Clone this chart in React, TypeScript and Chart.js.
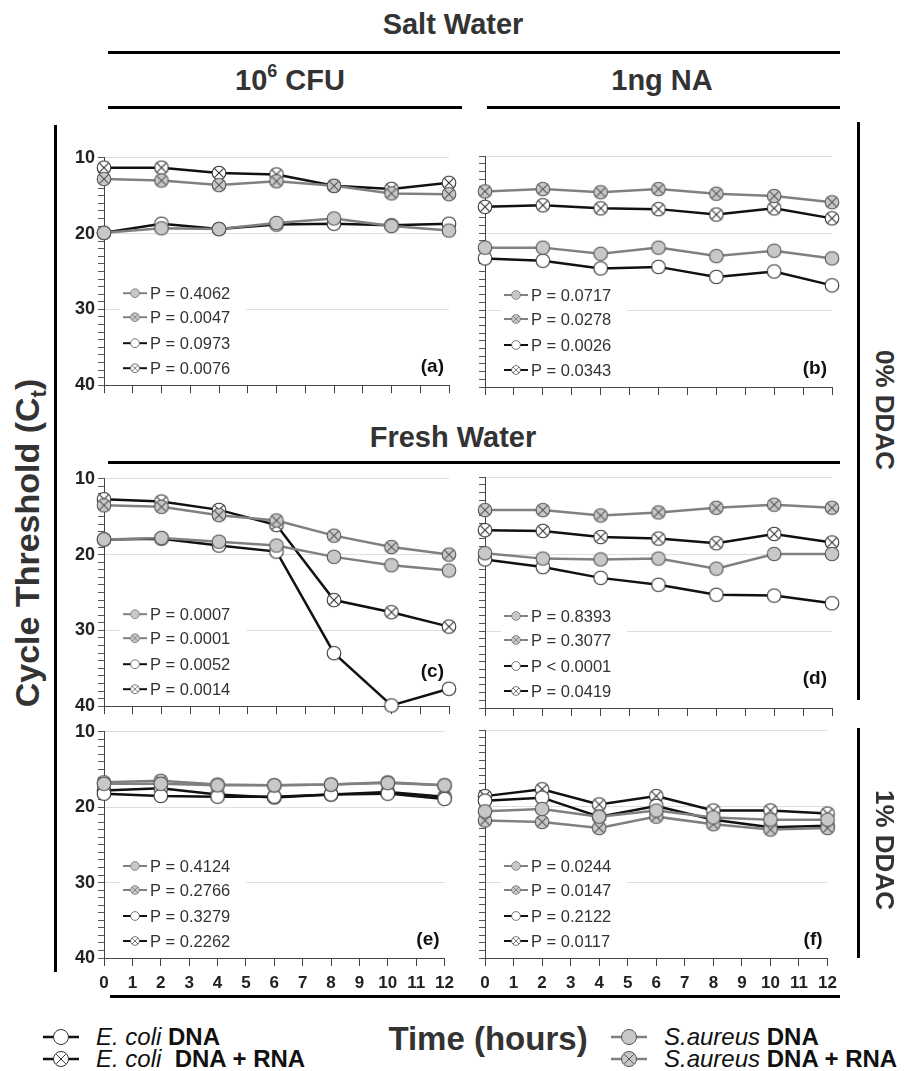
import React, { useEffect, useRef } from 'react';
import { Chart, registerables } from 'chart.js';

Chart.register(...registerables);

// ---------------- DATA ----------------
const HOURS = [0, 2, 4, 6, 8, 10, 12];
const Y_TICK_LABELS = ['10', '20', '30', '40'];
const SERIES_NAMES = ['S.aureus DNA', 'S.aureus DNA + RNA', 'E. coli DNA', 'E. coli DNA + RNA'];

// (a) Salt water, 10^6 CFU, 0% DDAC
const SA_DNA_A = [19.9, 19.3, 19.4, 18.6, 18.0, 19.0, 19.6];
const SA_DR_A = [12.8, 13.0, 13.6, 13.1, 13.7, 14.7, 14.8];
const EC_DNA_A = [19.9, 18.7, 19.4, 18.8, 18.7, 18.9, 18.7];
const EC_DR_A = [11.3, 11.3, 12.0, 12.2, 13.7, 14.1, 13.3];
const P_A = ['P = 0.4062', 'P = 0.0047', 'P = 0.0973', 'P = 0.0076'];

// (b) Salt water, 1ng NA, 0% DDAC
const SA_DNA_B = [21.9, 21.9, 22.7, 21.9, 23.0, 22.3, 23.3];
const SA_DR_B = [14.6, 14.3, 14.7, 14.3, 14.9, 15.2, 16.0];
const EC_DNA_B = [23.3, 23.6, 24.6, 24.4, 25.7, 25.0, 26.8];
const EC_DR_B = [16.6, 16.4, 16.8, 16.9, 17.6, 16.8, 18.1];
const P_B = ['P = 0.0717', 'P = 0.0278', 'P = 0.0026', 'P = 0.0343'];

// (c) Fresh water, 10^6 CFU, 0% DDAC
const SA_DNA_C = [18.0, 17.8, 18.3, 18.8, 20.3, 21.4, 22.1];
const SA_DR_C = [13.5, 13.7, 14.8, 15.5, 17.5, 19.0, 20.0];
const EC_DNA_C = [18.0, 17.9, 18.8, 19.6, 33.0, 39.9, 37.7];
const EC_DR_C = [12.7, 13.0, 14.1, 16.1, 26.0, 27.6, 29.5];
const P_C = ['P = 0.0007', 'P = 0.0001', 'P = 0.0052', 'P = 0.0014'];

// (d) Fresh water, 1ng NA, 0% DDAC
const SA_DNA_D = [19.9, 20.6, 20.7, 20.6, 21.9, 20.0, 20.0];
const SA_DR_D = [14.3, 14.3, 15.0, 14.6, 14.0, 13.6, 14.0];
const EC_DNA_D = [20.7, 21.7, 23.1, 24.0, 25.3, 25.4, 26.4];
const EC_DR_D = [16.9, 17.0, 17.8, 18.0, 18.6, 17.4, 18.5];
const P_D = ['P = 0.8393', 'P = 0.3077', 'P < 0.0001', 'P = 0.0419'];

// (e) Fresh water, 10^6 CFU, 1% DDAC
const SA_DNA_E = [16.9, 16.9, 17.1, 17.1, 17.0, 16.8, 17.1];
const SA_DR_E = [16.7, 16.5, 17.0, 17.1, 17.0, 16.7, 17.1];
const EC_DNA_E = [18.2, 18.5, 18.6, 18.6, 18.3, 18.2, 18.9];
const EC_DR_E = [17.8, 17.5, 18.3, 18.7, 18.3, 18.0, 18.6];
const P_E = ['P = 0.4124', 'P = 0.2766', 'P = 0.3279', 'P = 0.2262'];

// (f) Fresh water, 1ng NA, 1% DDAC
const SA_DNA_F = [20.7, 20.4, 21.4, 20.6, 21.5, 21.8, 21.8];
const SA_DR_F = [21.9, 22.1, 22.9, 21.4, 22.4, 23.1, 22.9];
const EC_DNA_F = [19.3, 18.9, 21.4, 20.0, 21.8, 22.8, 22.6];
const EC_DR_F = [18.7, 17.8, 19.8, 18.7, 20.6, 20.6, 21.0];
const P_F = ['P = 0.0244', 'P = 0.0147', 'P = 0.2122', 'P = 0.0117'];

// ---------------- STYLES / LAYOUT ----------------
type SeriesStyle = { line: string; fill: string; stroke: string; cross: boolean };
const SERIES_STYLE: SeriesStyle[] = [
  { line: '#808080', fill: '#c8c8c8', stroke: '#555555', cross: false },
  { line: '#808080', fill: '#c8c8c8', stroke: '#555555', cross: true },
  { line: '#111111', fill: '#ffffff', stroke: '#333333', cross: false },
  { line: '#111111', fill: '#ffffff', stroke: '#333333', cross: true },
];

const FONT = '"Liberation Sans", Arial, sans-serif';
const PAD_T = 12;
const PAD_R = 12;

type Panel = {
  tag: string;
  L: number; R: number; T: number; B: number;
  showY: boolean; showX: boolean;
  series: number[][];
  pvals: string[];
  tagDy: number;
};

const PANELS: Panel[] = [
  { tag: '(a)', L: 104, R: 449, T: 156, B: 387, showY: true, showX: false, series: [SA_DNA_A, SA_DR_A, EC_DNA_A, EC_DR_A], pvals: P_A, tagDy: 18 },
  { tag: '(b)', L: 485, R: 832, T: 156, B: 387, showY: false, showX: false, series: [SA_DNA_B, SA_DR_B, EC_DNA_B, EC_DR_B], pvals: P_B, tagDy: 18 },
  { tag: '(c)', L: 104, R: 449, T: 477, B: 708, showY: true, showX: false, series: [SA_DNA_C, SA_DR_C, EC_DNA_C, EC_DR_C], pvals: P_C, tagDy: 34 },
  { tag: '(d)', L: 485, R: 832, T: 477, B: 708, showY: false, showX: false, series: [SA_DNA_D, SA_DR_D, EC_DNA_D, EC_DR_D], pvals: P_D, tagDy: 29 },
  { tag: '(e)', L: 104, R: 449, T: 730, B: 958, showY: true, showX: true, series: [SA_DNA_E, SA_DR_E, EC_DNA_E, EC_DR_E], pvals: P_E, tagDy: 18 },
  { tag: '(f)', L: 485, R: 832, T: 730, B: 958, showY: false, showX: true, series: [SA_DNA_F, SA_DR_F, EC_DNA_F, EC_DR_F], pvals: P_F, tagDy: 18 },
];

function axisW(p: Panel) { return p.showY ? 50 : 14; }
function axisH(p: Panel) { return p.showX ? 40 : 12; }

function drawMarker(ctx: CanvasRenderingContext2D, x: number, y: number, r: number, st: SeriesStyle, lw: number) {
  ctx.beginPath();
  ctx.arc(x, y, r, 0, Math.PI * 2);
  ctx.fillStyle = st.fill;
  ctx.fill();
  ctx.lineWidth = lw;
  ctx.strokeStyle = st.stroke;
  ctx.stroke();
  if (st.cross) {
    const d = r * 0.68;
    ctx.beginPath();
    ctx.moveTo(x - d, y - d);
    ctx.lineTo(x + d, y + d);
    ctx.moveTo(x + d, y - d);
    ctx.lineTo(x - d, y + d);
    ctx.stroke();
  }
}

function makeMarkerCanvas(r: number, st: SeriesStyle) {
  const s = Math.ceil(r * 2 + 4);
  const c = document.createElement('canvas');
  c.width = s;
  c.height = s;
  const ctx = c.getContext('2d')!;
  drawMarker(ctx, s / 2, s / 2, r, st, 1.1);
  return c;
}

const insideLegend = {
  id: 'insideLegend',
  beforeDatasetsDraw(chart: any, _args: any, opts: any) {
    const { ctx, chartArea } = chart;
    const { pvals, tag, tagDy } = opts;
    const L = chartArea.left;
    const B = chartArea.bottom;
    ctx.save();
    ctx.fillStyle = '#ffffff';
    ctx.fillRect(L + 16, B - 106, 126, 100);
    const rows = [B - 92, B - 68, B - 42, B - 17];
    pvals.forEach((txt: string, i: number) => {
      const st = SERIES_STYLE[i];
      const y = rows[i];
      ctx.beginPath();
      ctx.moveTo(L + 19, y);
      ctx.lineTo(L + 43, y);
      ctx.strokeStyle = st.line;
      ctx.lineWidth = 2;
      ctx.stroke();
      drawMarker(ctx, L + 31, y, 4.4, { ...st, stroke: st.line === '#111111' ? '#555' : '#777' }, 0.8);
      ctx.fillStyle = '#333';
      ctx.font = `16.5px ${FONT}`;
      ctx.textBaseline = 'middle';
      ctx.textAlign = 'left';
      ctx.fillText(txt, L + 46, y + 1);
    });
    ctx.font = `bold 19px ${FONT}`;
    ctx.fillStyle = '#111';
    ctx.textAlign = 'right';
    ctx.textBaseline = 'middle';
    ctx.fillText(tag, chartArea.right - 5, B - tagDy);
    ctx.restore();
  },
};

function LegendIcon({ st }: { st: SeriesStyle }) {
  const d = 7 * 0.68;
  return (
    <svg width={38} height={20} style={{ display: 'block' }}>
      <line x1={1} y1={10} x2={37} y2={10} stroke={st.line} strokeWidth={2.5} />
      <circle cx={19} cy={10} r={7.5} fill={st.fill} stroke={st.stroke} strokeWidth={1} />
      {st.cross && (
        <path d={`M${19 - d} ${10 - d} L${19 + d} ${10 + d} M${19 + d} ${10 - d} L${19 - d} ${10 + d}`} stroke={st.stroke} strokeWidth={1} />
      )}
    </svg>
  );
}

function Label({ x, y, size, children, rotate = 0, weight = 'bold' }: any) {
  return (
    <div
      style={{
        position: 'absolute',
        left: x,
        top: y,
        transform: `translate(-50%, -50%) rotate(${rotate}deg)`,
        fontSize: size,
        fontWeight: weight,
        whiteSpace: 'nowrap',
        color: '#333',
        lineHeight: 1,
      }}
    >
      {children}
    </div>
  );
}

function HLine({ x1, x2, y, w = 3 }: any) {
  return <div style={{ position: 'absolute', left: x1, top: y - w / 2, width: x2 - x1, height: w, background: '#000' }} />;
}
function VLine({ x, y1, y2, w = 3 }: any) {
  return <div style={{ position: 'absolute', left: x - w / 2, top: y1, width: w, height: y2 - y1, background: '#000' }} />;
}

function LegendRow({ x, y, st, children }: any) {
  return (
    <div style={{ position: 'absolute', left: x, top: y, transform: 'translateY(-50%)', display: 'flex', alignItems: 'center', gap: 16, fontSize: 24, color: '#111', whiteSpace: 'nowrap' }}>
      <LegendIcon st={st} />
      <span>{children}</span>
    </div>
  );
}

export default function App() {
  const refs = useRef<(HTMLCanvasElement | null)[]>([]);

  useEffect(() => {
    document.body.style.margin = '0';
    const markers = SERIES_STYLE.map((st) => makeMarkerCanvas(6.8, st));
    const charts: Chart[] = [];
    PANELS.forEach((p, pi) => {
      const canvas = refs.current[pi];
      if (!canvas) return;
      const aw = axisW(p);
      const ah = axisH(p);
      const chart = new Chart(canvas, {
        type: 'line',
        data: {
          datasets: p.series.map((vals, i) => ({
            label: `${SERIES_NAMES[i]} ${p.pvals[i]}`,
            data: HOURS.map((h, j) => ({ x: h, y: vals[j] })),
            borderColor: SERIES_STYLE[i].line,
            backgroundColor: SERIES_STYLE[i].fill,
            borderWidth: 2.5,
            pointStyle: markers[i] as any,
            pointRadius: 6.8,
            pointHoverRadius: 6.8,
            tension: 0,
            clip: false as any,
          })),
        },
        options: {
          responsive: false,
          animation: false,
          events: [],
          layout: { padding: { top: PAD_T, right: PAD_R, left: 0, bottom: 0 } },
          plugins: {
            legend: { display: false },
            tooltip: { enabled: false },
            insideLegend: { pvals: p.pvals, tag: p.tag, tagDy: p.tagDy },
          } as any,
          scales: {
            x: {
              type: 'linear',
              min: 0,
              max: 12,
              border: { color: '#444', width: 1 },
              grid: { drawOnChartArea: false, drawTicks: true, tickLength: 8, tickColor: '#444', color: '#444' },
              ticks: {
                display: p.showX,
                stepSize: 1,
                autoSkip: false,
                maxRotation: 0,
                padding: 7,
                color: '#222',
                font: { family: FONT, size: 17, weight: 'bold' },
              },
              afterFit: (s: any) => { s.height = ah; },
            },
            y: {
              type: 'linear',
              reverse: true,
              min: 10,
              max: 40,
              border: { color: '#444', width: 1 },
              grid: {
                color: (c: any) => (c.tick && c.tick.value % 10 === 0 && c.tick.value !== 40 ? '#dedede' : 'rgba(0,0,0,0)'),
                tickColor: '#555',
                tickLength: 6,
                drawTicks: true,
              },
              ticks: {
                display: p.showY,
                stepSize: 1,
                autoSkip: false,
                padding: 3,
                color: '#222',
                font: { family: FONT, size: 18, weight: 'bold' },
                callback: (v: any) => (Y_TICK_LABELS.includes(String(v)) ? String(v) : ''),
              },
              afterFit: (s: any) => { s.width = aw; },
            },
          } as any,
        },
        plugins: [insideLegend as any],
      });
      charts.push(chart);
    });
    return () => charts.forEach((c) => c.destroy());
  }, []);

  return (
    <div style={{ position: 'relative', width: 907, height: 1071, background: '#fff', fontFamily: FONT, overflow: 'hidden' }}>
      {PANELS.map((p, i) => {
        const aw = axisW(p);
        const ah = axisH(p);
        const w = p.R - p.L + aw + PAD_R;
        const h = p.B - p.T + PAD_T + ah;
        return (
          <canvas
            key={p.tag}
            ref={(el) => { refs.current[i] = el; }}
            width={w}
            height={h}
            style={{ position: 'absolute', left: p.L - aw, top: p.T - PAD_T, width: w, height: h }}
          />
        );
      })}

      <Label x={453} y={24} size={29}>Salt Water</Label>
      <HLine x1={108} x2={840} y={52} />
      <Label x={290} y={80} size={29}>10<sup style={{ fontSize: 18, verticalAlign: 'top', position: 'relative', top: -4 }}>6</sup> CFU</Label>
      <HLine x1={108} x2={462} y={107} />
      <Label x={662} y={80} size={29}>1ng NA</Label>
      <HLine x1={487} x2={840} y={107} />
      <Label x={453} y={437} size={29}>Fresh Water</Label>
      <HLine x1={108} x2={840} y={462} />

      <VLine x={55} y1={125} y2={972} />
      <Label x={30} y={543} size={34} rotate={-90}>Cycle Threshold (C<sub style={{ fontSize: 22 }}>t</sub>)</Label>

      <VLine x={858} y1={122} y2={700} />
      <Label x={885} y={410} size={26} rotate={90}>0% DDAC</Label>
      <VLine x={858} y1={728} y2={958} />
      <Label x={885} y={850} size={26} rotate={90}>1% DDAC</Label>

      <HLine x1={110} x2={840} y={996} />
      <Label x={488} y={1038} size={33}>Time (hours)</Label>

      <LegendRow x={42} y={1037} st={SERIES_STYLE[2]}><i>E. coli</i> <b>DNA</b></LegendRow>
      <LegendRow x={42} y={1059} st={SERIES_STYLE[3]}><i>E. coli</i>&nbsp; <b>DNA + RNA</b></LegendRow>
      <LegendRow x={610} y={1037} st={SERIES_STYLE[0]}><i>S.aureus</i> <b>DNA</b></LegendRow>
      <LegendRow x={610} y={1059} st={SERIES_STYLE[1]}><i>S.aureus</i> <b>DNA + RNA</b></LegendRow>
    </div>
  );
}
